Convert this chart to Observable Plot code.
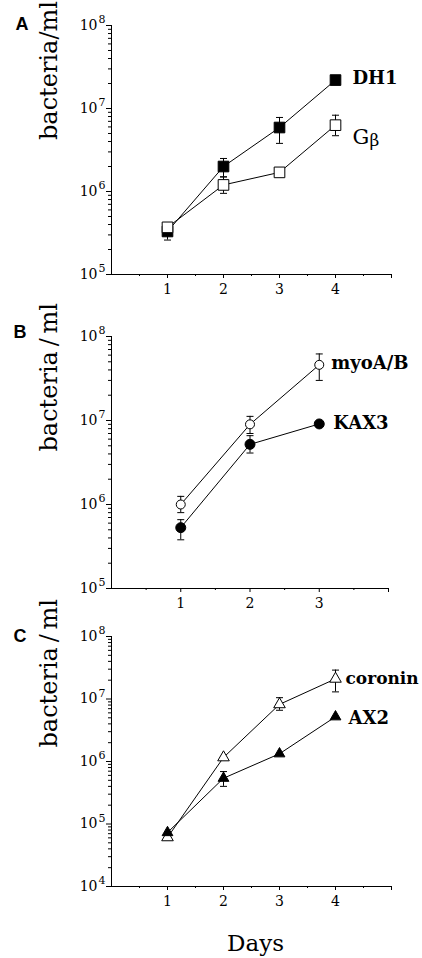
<!DOCTYPE html>
<html>
<head>
<meta charset="utf-8">
<script src="https://cdn.jsdelivr.net/npm/d3@7"></script>
<script src="https://cdn.jsdelivr.net/npm/@observablehq/plot@0.6"></script>
<style>
  html, body { margin: 0; padding: 0; background: #fff; }
  #chart { width: 422px; }
</style>
</head>
<body>
<div id="chart"></div>
<script>
// ---------- DATA ----------
const panelLetters = ["A", "B", "C"];
const yTitleA = "bacteria/ml";
const yTitleBC = "bacteria\u2009/\u2009ml";
const xTitle = "Days";

const yTicksAB = [1e5, 1e6, 1e7, 1e8];
const yTicksC = [1e4, 1e5, 1e6, 1e7, 1e8];
const xTicksA = [1, 2, 3, 4];
const xTicksB = [1, 2, 3];
const xTicksC = [1, 2, 3, 4];

// Panel A
const daysA = [1, 2, 3, 4];
const dh1Name = "DH1";
const dh1 = [3.3e5, 2.0e6, 5.9e6, 2.2e7];
const dh1Lo = [2.6e5, 1.5e6, 3.8e6, null];
const dh1Hi = [null, 2.5e6, 7.8e6, null];
const gbetaName = ["G", "\u03B2"];
const gbeta = [3.7e5, 1.2e6, 1.7e6, 6.3e6];
const gbetaLo = [null, 9.5e5, null, 4.7e6];
const gbetaHi = [null, 1.5e6, null, 8.3e6];

// Panel B
const daysB = [1, 2, 3];
const myoName = "myoA/B";
const myoAB = [1.0e6, 9.0e6, 4.6e7];
const myoABLo = [8.0e5, 7.0e6, 3.0e7];
const myoABHi = [1.25e6, 1.12e7, 6.2e7];
const kax3Name = "KAX3";
const kax3 = [5.3e5, 5.2e6, 9.1e6];
const kax3Lo = [3.8e5, 4.1e6, null];
const kax3Hi = [6.6e5, 6.6e6, null];

// Panel C
const daysC = [1, 2, 3, 4];
const coroninName = "coronin";
const coronin = [6.1e4, 1.16e6, 8.2e6, 2.1e7];
const coroninLo = [null, null, 6.6e6, 1.3e7];
const coroninHi = [null, null, 1.05e7, 2.9e7];
const ax2Name = "AX2";
const ax2 = [7.3e4, 5.4e5, 1.33e6, 5.2e6];
const ax2Lo = [null, 4.0e5, null, null];
const ax2Hi = [null, 6.9e5, null, null];

// ---------- HELPERS ----------
const SERIF = "DejaVu Serif";
const capSymbol = {draw(ctx) { ctx.moveTo(-3.5, 0); ctx.lineTo(3.5, 0); }};

function rowsOf(days, vals, lo, hi) {
  return days.map((d, i) => ({day: d, v: vals[i], lo: lo[i], hi: hi[i]}));
}

function seriesMarks(rows) {
  const err = rows.filter(d => d.lo != null || d.hi != null);
  const caps = [];
  for (const d of rows) {
    if (d.lo != null) caps.push({day: d.day, v: d.lo});
    if (d.hi != null) caps.push({day: d.day, v: d.hi});
  }
  return {
    line: Plot.line(rows, {x: "day", y: "v", stroke: "black", strokeWidth: 1}),
    err: [
      Plot.ruleX(err, {x: "day", y1: d => d.lo ?? d.v, y2: d => d.hi ?? d.v, stroke: "black", strokeWidth: 1}),
      Plot.dot(caps, {x: "day", y: "v", symbol: capSymbol, stroke: "black", strokeWidth: 1, r: 3})
    ]
  };
}

function dots(rows, symbol, filled, r) {
  return Plot.dot(rows, {x: "day", y: "v", symbol, r, fill: filled ? "black" : "white", stroke: "black", strokeWidth: 1});
}

function nameLabel(rows, text, opts) {
  const last = rows[rows.length - 1];
  return Plot.text([text], {x: () => last.day, y: () => last.v, textAnchor: "start", fontFamily: SERIF, fill: "black", ...opts});
}

function buildPanel(cfg) {
  const {xMax, yDomain, yTicks, xTicks, letter, yTitle, height, marginTop, marginBottom, marginRight,
         titleDy, letterDx, letterDy, seriesList, extra} = cfg;
  const minor = [];
  for (let i = 0; i < yTicks.length - 1; i++) for (let k = 2; k <= 9; k++) minor.push(yTicks[i] * k);
  const xMinor = [];
  for (let h = 0.5; h < xMax; h += 1) xMinor.push(h);
  const parts = seriesList.map(s => seriesMarks(s.rows));
  return Plot.plot({
    width: 422, height, marginLeft: 111, marginRight, marginTop, marginBottom,
    style: {fontFamily: SERIF, color: "black", background: "white", overflow: "visible"},
    x: {domain: [0, xMax], label: null},
    y: {type: "log", domain: yDomain, label: null},
    marks: [
      Plot.ruleX([0], {stroke: "black", strokeWidth: 1}),
      Plot.ruleY([yDomain[0]], {stroke: "black", strokeWidth: 1}),
      Plot.axisY({ticks: minor, tickSize: 3, tickFormat: () => "", label: null}),
      Plot.axisY({ticks: yTicks, tickSize: 5, tickFormat: () => "", label: null}),
      Plot.axisX({ticks: xMinor, tickSize: 2, tickFormat: () => "", label: null}),
      Plot.axisX({ticks: [xMax], tickSize: 4, tickFormat: () => "", label: null}),
      Plot.axisX({ticks: xTicks, tickSize: 4, tickPadding: 6, fontSize: 14, fontFamily: SERIF, tickFormat: d => String(d), label: null}),
      Plot.text(yTicks, {y: d => d, frameAnchor: "left", text: () => "10", textAnchor: "end", dx: -14, fontSize: 14, fontFamily: SERIF, fill: "black"}),
      Plot.text(yTicks, {y: d => d, frameAnchor: "left", text: d => String(Math.round(Math.log10(d))), textAnchor: "start", dx: -13, dy: -6, fontSize: 11, fontFamily: SERIF, fill: "black"}),
      Plot.text([yTitle], {frameAnchor: "left", rotate: -90, dx: -62, dy: titleDy, fontSize: 24, fontFamily: SERIF, fill: "black"}),
      Plot.text([letter], {frameAnchor: "top-left", dx: letterDx, dy: letterDy, lineAnchor: "bottom", textAnchor: "start",
        fontFamily: "Liberation Sans", fontWeight: "bold", fontSize: 18, fill: "black"}),
      ...parts.map(p => p.line),
      ...parts.flatMap(p => p.err),
      ...seriesList.map(s => dots(s.rows, s.symbol, s.filled, s.r)),
      ...seriesList.flatMap(s => s.labels),
      ...(extra || [])
    ]
  });
}

// ---------- PANELS ----------
const rDH1 = rowsOf(daysA, dh1, dh1Lo, dh1Hi);
const rGb = rowsOf(daysA, gbeta, gbetaLo, gbetaHi);
const panelA = buildPanel({
  xMax: 5, yDomain: [1e5, 1e8], yTicks: yTicksAB, xTicks: xTicksA, letter: panelLetters[0], yTitle: yTitleA,
  height: 310, marginTop: 25, marginBottom: 36, marginRight: 31, titleDy: -10, letterDx: -96, letterDy: 4,
  seriesList: [
    {rows: rDH1, symbol: "square", filled: true, r: 6.0,
     labels: [nameLabel(rDH1, dh1Name, {dx: 17, dy: -2, fontSize: 18, fontWeight: "bold"})]},
    {rows: rGb, symbol: "square", filled: false, r: 6.0,
     labels: [nameLabel(rGb, gbetaName[0], {dx: 17, dy: 12, fontSize: 21}),
              nameLabel(rGb, gbetaName[1], {dx: 34, dy: 15, fontSize: 17})]}
  ]
});

const rMyo = rowsOf(daysB, myoAB, myoABLo, myoABHi);
const rKax = rowsOf(daysB, kax3, kax3Lo, kax3Hi);
const panelB = buildPanel({
  xMax: 4, yDomain: [1e5, 1e8], yTicks: yTicksAB, xTicks: xTicksB, letter: panelLetters[1], yTitle: yTitleBC,
  height: 310, marginTop: 26, marginBottom: 32, marginRight: 34, titleDy: -11, letterDx: -98, letterDy: 1,
  seriesList: [
    {rows: rMyo, symbol: "circle", filled: false, r: 4.5,
     labels: [nameLabel(rMyo, myoName, {dx: 12, dy: -2, fontSize: 18, fontWeight: "bold"})]},
    {rows: rKax, symbol: "circle", filled: true, r: 5,
     labels: [nameLabel(rKax, kax3Name, {dx: 14, dy: -1, fontSize: 18, fontWeight: "bold"})]}
  ]
});

const rCor = rowsOf(daysC, coronin, coroninLo, coroninHi);
const rAx2 = rowsOf(daysC, ax2, ax2Lo, ax2Hi);
const panelC = buildPanel({
  xMax: 5, yDomain: [1e4, 1e8], yTicks: yTicksC, xTicks: xTicksC, letter: panelLetters[2], yTitle: yTitleBC,
  height: 338, marginTop: 16, marginBottom: 72, marginRight: 31, titleDy: -14, letterDx: -98, letterDy: 5,
  seriesList: [
    {rows: rCor, symbol: "triangle", filled: false, r: 4.3,
     labels: [nameLabel(rCor, coroninName, {dx: 10, dy: 0, fontSize: 17, fontWeight: "bold"})]},
    {rows: rAx2, symbol: "triangle", filled: true, r: 4.0,
     labels: [nameLabel(rAx2, ax2Name, {dx: 13, dy: 1, fontSize: 18, fontWeight: "bold"})]}
  ],
  extra: [Plot.text([xTitle], {frameAnchor: "bottom", lineAnchor: "bottom", dx: 4, dy: 64, fontSize: 23, fontFamily: SERIF, fill: "black"})]
});

const root = document.getElementById("chart");
root.append(panelA, panelB, panelC);
</script>
</body>
</html>
